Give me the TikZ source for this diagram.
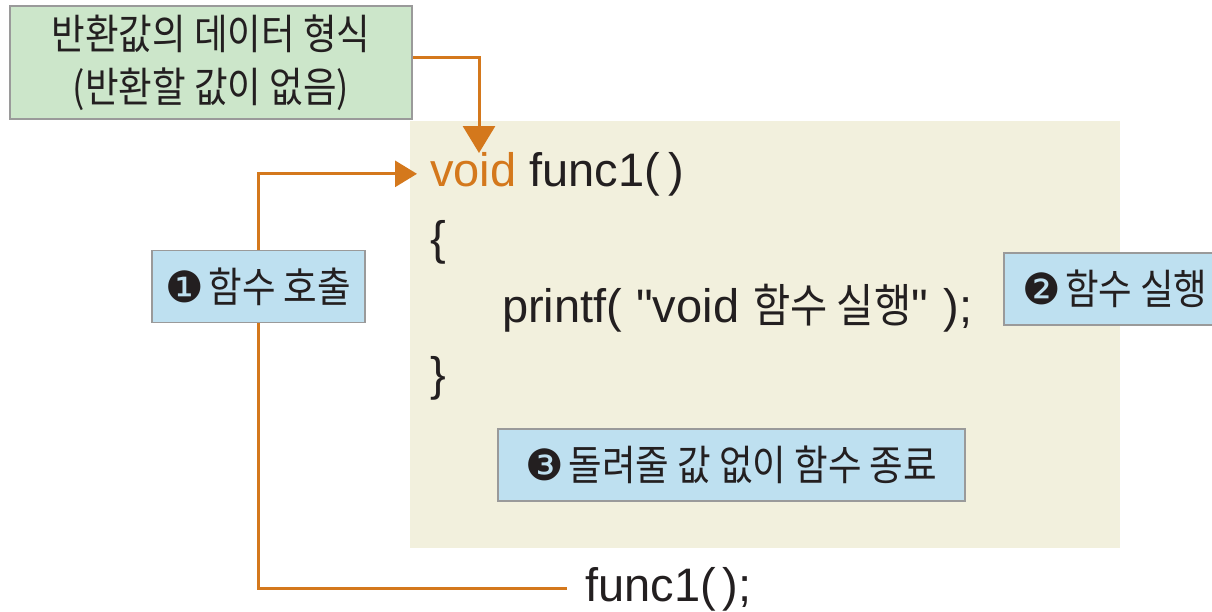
\documentclass[tikz,border=0pt]{standalone}
\usepackage{fontspec}
\setmainfont{Liberation Sans}[Ligatures=TeXOff]
\newfontfamily\krfont[FakeStretch=0.88]{Noto Sans CJK KR}
\newfontfamily\dvfont{DejaVu Sans}
\usetikzlibrary{arrows.meta}
\definecolor{gfill}{HTML}{CCE6CA}
\definecolor{bfill}{HTML}{BEE0F0}
\definecolor{panelc}{HTML}{F2F0DD}
\definecolor{orng}{HTML}{D4781C}
\definecolor{ink}{HTML}{231F20}
\definecolor{bord}{HTML}{9A9A9A}
\newcommand{\krt}[1]{{\krfont\fontsize{46}{50}\selectfont #1}}
\newcommand{\circd}[1]{{\dvfont\fontsize{43}{48}\selectfont #1}}
\tikzset{
  gbox/.style={draw=bord, line width=1.5pt, fill=gfill, align=center, text=ink,
    font=\krfont\fontsize{41.5}{53}\selectfont, inner sep=0},
  bbox/.style={draw=bord, line width=1.5pt, fill=bfill, text=ink,
    font=\krfont\fontsize{41.5}{46}\selectfont, inner sep=0, minimum height=72pt},
  code/.style={text=ink, font=\fontsize{47}{50}\selectfont, inner ysep=0, inner xsep=0, anchor=base west},
  oline/.style={draw=orng, line width=3pt},
}
\begin{document}
\begin{tikzpicture}[x=1pt,y=-1pt]
\useasboundingbox (0,0) rectangle (1212,611);
% panel
\node[fill=panelc, minimum width=710pt, minimum height=427pt, inner sep=0] (panel) at (765,334.5) {};
% green box
\node[gbox, minimum width=402pt, minimum height=113pt] (ret) at (211,62.5) {반환값의 데이터 형식\\(반환할 값이 없음)};
% code
\node[code, inner xsep=13pt] (sig) at (417,186) {\textcolor{orng}{void} func1(\hspace{8pt})};
\node[code] (lbrace) at (430,254) {\{};
\node[code] (body) at (502,322) {printf(\hspace{14pt}"void\hspace{14pt}\krt{함수 실행}"\hspace{16pt});};
\node[code] (rbrace) at (430,390) {\}};
\node[code, inner xsep=18pt] (call) at (567,601) {func1(\hspace{7pt});};
\coordinate (tip) at (479,153);
% label boxes
\node[bbox, minimum width=213pt] (step1) at (258.5,286.5) {\circd{❶}\hspace{4pt}함수 호출};
\node[bbox, minimum width=222pt] (step2) at (1115,289) {\circd{❷}\hspace{4pt}함수 실행};
\node[bbox, minimum width=467pt] (step3) at (731.5,465) {\circd{❸}\hspace{4pt}돌려줄 값 없이 함수 종료};
% connectors
\draw[oline, -{Triangle[length=27pt,width=32pt]}] ([yshift=5.5pt]ret.east) -| (tip);
\draw[oline] (call.west) -| (step1.south);
\draw[oline, -{Triangle[length=22pt,width=26pt]}] (step1.north) |- (sig.west);
\end{tikzpicture}
\end{document}
